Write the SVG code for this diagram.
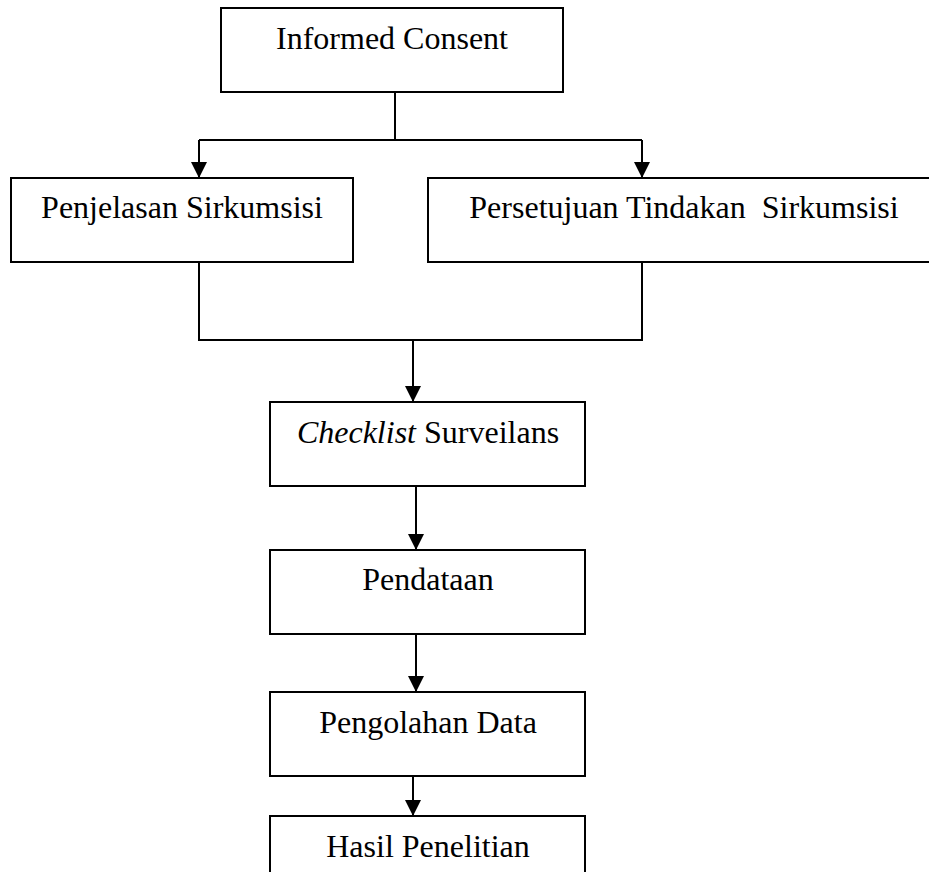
<svg xmlns="http://www.w3.org/2000/svg" width="929" height="872" viewBox="0 0 929 872">
<defs>
<style>
.box{fill:#fff;stroke:#000;stroke-width:2}
.ln{fill:none;stroke:#000;stroke-width:2}
.t{font-family:"Liberation Serif","Times New Roman",serif;font-size:32px;fill:#000;text-anchor:middle}
</style>
<marker id="ah" markerUnits="userSpaceOnUse" markerWidth="16" markerHeight="16" viewBox="0 0 16 16" refX="16" refY="8" orient="auto">
<path d="M0,0 L16,8 L0,16 Z" fill="#000"/>
</marker>
</defs>
<rect width="929" height="872" fill="#fff"/>
<g id="connectors">
<path class="ln" d="M395,92 V140"/>
<path class="ln" d="M199,140 H642"/>
<path class="ln" d="M199,140 V178" marker-end="url(#ah)"/>
<path class="ln" d="M642,140 V178" marker-end="url(#ah)"/>
<path class="ln" d="M199,262 V340 H642 V262"/>
<path class="ln" d="M413,340 V402" marker-end="url(#ah)"/>
<path class="ln" d="M416,486 V550" marker-end="url(#ah)"/>
<path class="ln" d="M416,634 V692" marker-end="url(#ah)"/>
<path class="ln" d="M413,776 V816" marker-end="url(#ah)"/>
</g>
<g id="informed-consent">
<rect class="box" x="221" y="8" width="342" height="84"/>
<text class="t" x="392" y="49">Informed Consent</text>
</g>
<g id="penjelasan">
<rect class="box" x="11" y="178" width="342" height="84"/>
<text class="t" x="182" y="218">Penjelasan Sirkumsisi</text>
</g>
<g id="persetujuan">
<rect class="box" x="428" y="178" width="512" height="84"/>
<text class="t" x="684" y="218" xml:space="preserve">Persetujuan Tindakan  Sirkumsisi</text>
</g>
<g id="checklist">
<rect class="box" x="270" y="402" width="315" height="84"/>
<text class="t" x="428" y="443"><tspan font-style="italic">Checklist</tspan> Surveilans</text>
</g>
<g id="pendataan">
<rect class="box" x="270" y="550" width="315" height="84"/>
<text class="t" x="428" y="590">Pendataan</text>
</g>
<g id="pengolahan">
<rect class="box" x="270" y="692" width="315" height="84"/>
<text class="t" x="428" y="733">Pengolahan Data</text>
</g>
<g id="hasil">
<rect class="box" x="270" y="816" width="315" height="84"/>
<text class="t" x="428" y="857">Hasil Penelitian</text>
</g>
</svg>
